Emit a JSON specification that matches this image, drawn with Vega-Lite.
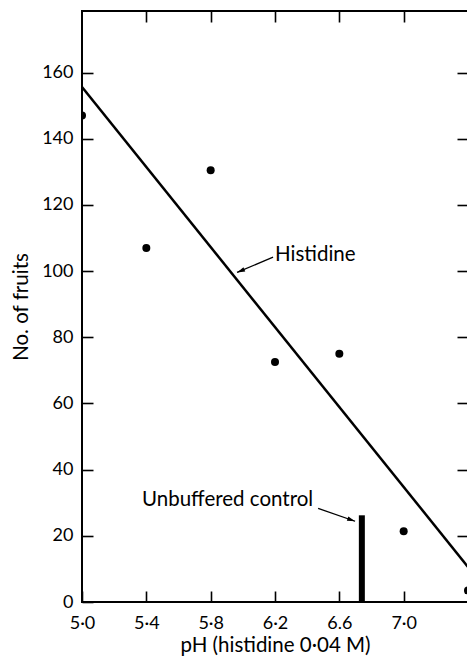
{
  "$schema": "https://vega.github.io/schema/vega-lite/v6.json",
  "width": 386,
  "height": 591,
  "autosize": {"type": "none"},
  "padding": {"left": 82, "top": 11, "right": 0, "bottom": 55},
  "background": "white",
  "config": {
    "view": {"stroke": "black", "strokeWidth": 2},
    "font": "Lato",
    "axis": {
      "domain": false,
      "grid": false,
      "labelFlush": false,
      "tickColor": "black",
      "tickWidth": 1.6,
      "tickSize": -11,
      "labelColor": "black",
      "labelFont": "Lato",
      "labelFontSize": 18,
      "titleFont": "Lato",
      "titleFontSize": 20.5,
      "titleFontWeight": "normal",
      "titleColor": "black"
    }
  },
  "datasets": {
    "fit": [{"ph": 5.0, "fruits": 155.6}, {"ph": 7.4, "fruits": 10.6}],
    "obs": [
      {"ph": 5.0, "fruits": 147},
      {"ph": 5.4, "fruits": 107},
      {"ph": 5.8, "fruits": 130.5},
      {"ph": 6.2, "fruits": 72.5},
      {"ph": 6.6, "fruits": 75},
      {"ph": 7.0, "fruits": 21.4},
      {"ph": 7.4, "fruits": 3.5}
    ],
    "control": [{"ph": 6.74, "low": 0, "fruits": 26.2}],
    "labels": [
      {"text": "Histidine", "ph": 6.20, "fruits": 105},
      {"text": "Unbuffered control", "ph": 5.373, "fruits": 30.7}
    ],
    "arrows": [
      {"name": "Histidine", "ph": 6.188, "fruits": 104.2, "ph2": 5.964, "fruits2": 99.6},
      {"name": "Unbuffered control", "ph": 6.468, "fruits": 28.3, "ph2": 6.698, "fruits2": 24.4}
    ]
  },
  "layer": [
    {
      "data": {"name": "fit"},
      "mark": {"type": "line", "color": "black", "strokeWidth": 2.5, "clip": true},
      "encoding": {
        "x": {
          "field": "ph", "type": "quantitative",
          "scale": {"domain": [5.0, 7.4], "nice": false, "zero": false},
          "axis": {
            "orient": "bottom",
            "values": [5.0, 5.4, 5.8, 6.2, 6.6, 7.0],
            "labelExpr": "format(datum.value, '.1f') == '6.6' ? '6.6' : replace(format(datum.value, '.1f'), '.', '·')",
            "labelPadding": 23,
            "title": "pH (histidine 0·04 M)",
            "titlePadding": 3
          }
        },
        "y": {
          "field": "fruits", "type": "quantitative",
          "scale": {"domain": [0, 178.6], "nice": false},
          "axis": {
            "orient": "left",
            "values": [0, 20, 40, 60, 80, 100, 120, 140, 160],
            "labelPadding": 20,
            "title": "No. of fruits",
            "titlePadding": 10
          }
        }
      }
    },
    {
      "data": {"name": "obs"},
      "mark": {"type": "circle", "color": "black", "size": 64, "opacity": 1, "clip": true},
      "encoding": {
        "x": {"field": "ph", "type": "quantitative", "axis": null},
        "y": {"field": "fruits", "type": "quantitative", "axis": null}
      }
    },
    {
      "data": {"name": "control"},
      "mark": {"type": "rule", "color": "black", "strokeWidth": 6},
      "encoding": {
        "x": {"field": "ph", "type": "quantitative", "axis": null},
        "y": {"field": "low", "type": "quantitative", "axis": null},
        "y2": {"field": "fruits"}
      }
    },
    {
      "data": {"name": "labels"},
      "mark": {"type": "text", "align": "left", "baseline": "middle", "fontSize": 20.5, "font": "Lato", "color": "black"},
      "encoding": {
        "x": {"field": "ph", "type": "quantitative", "axis": null},
        "y": {"field": "fruits", "type": "quantitative", "axis": null},
        "text": {"field": "text"}
      }
    },
    {
      "data": {"name": "arrows"},
      "mark": {"type": "rule", "color": "black", "strokeWidth": 1.3},
      "encoding": {
        "x": {"field": "ph", "type": "quantitative", "axis": null},
        "y": {"field": "fruits", "type": "quantitative", "axis": null},
        "x2": {"field": "ph2"},
        "y2": {"field": "fruits2"}
      }
    },
    {
      "data": {"name": "arrows"},
      "transform": [{"filter": "datum.name == 'Histidine'"}],
      "mark": {"type": "point", "shape": "M0,0L0.38,1.3L-0.38,1.3Z", "filled": true, "fill": "black", "stroke": null, "strokeWidth": 0, "size": 150, "angle": 247, "opacity": 1},
      "encoding": {
        "x": {"field": "ph2", "type": "quantitative", "axis": null},
        "y": {"field": "fruits2", "type": "quantitative", "axis": null}
      }
    },
    {
      "data": {"name": "arrows"},
      "transform": [{"filter": "datum.name == 'Unbuffered control'"}],
      "mark": {"type": "point", "shape": "M0,0L0.38,1.3L-0.38,1.3Z", "filled": true, "fill": "black", "stroke": null, "strokeWidth": 0, "size": 150, "angle": 109, "opacity": 1},
      "encoding": {
        "x": {"field": "ph2", "type": "quantitative", "axis": null},
        "y": {"field": "fruits2", "type": "quantitative", "axis": null}
      }
    },
    {
      "data": {"name": "obs"},
      "mark": {"type": "point", "opacity": 0},
      "encoding": {
        "x": {"field": "ph", "type": "quantitative", "axis": {"orient": "top", "values": [5.4, 5.8, 6.2, 6.6, 7.0], "labels": false, "title": null}},
        "y": {"field": "fruits", "type": "quantitative", "axis": {"orient": "right", "values": [20, 40, 60, 80, 100, 120, 140, 160], "labels": false, "title": null}}
      }
    }
  ],
  "resolve": {"axis": {"x": "independent", "y": "independent"}}
}
